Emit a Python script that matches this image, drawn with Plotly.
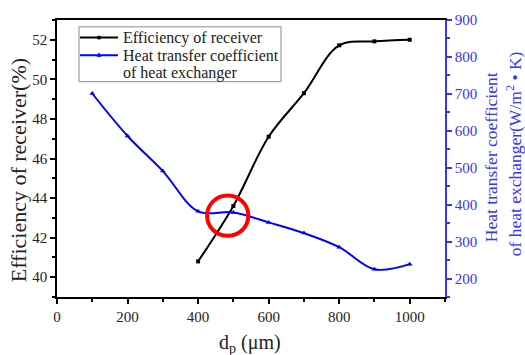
import plotly.graph_objects as go

# ---- data ----
dp = [400, 500, 600, 700, 800, 900, 1000]
efficiency = [40.8, 43.6, 47.1, 49.3, 51.72, 51.92, 52.0]

dp_h = [100, 200, 300, 400, 500, 600, 700, 800, 900, 1000]
heat_coef = [701, 586, 491, 382, 379, 352, 323, 285, 225, 239]

x_ticks = [0, 200, 400, 600, 800, 1000]
y_ticks = [40, 42, 44, 46, 48, 50, 52]
y2_ticks = [200, 300, 400, 500, 600, 700, 800, 900]

names = ["Efficiency of receiver", "Heat transfer coefficient", "of heat exchanger"]

FONT = "Liberation Serif, Times New Roman, serif"
BLUE = "#0000ff"
AXBLUE = "#3535ff"
TXT = "#222222"

W, H = 525, 355
L, R, T, B = 57, 80, 14, 58
PW, PH = W - L - R, H - T - B


def px(xp):
    return (xp - L) / PW


def py(yp):
    return (H - B - yp) / PH


fig = go.Figure()
fig.add_trace(go.Scatter(
    x=dp, y=efficiency, mode="lines+markers", showlegend=False,
    line=dict(color="black", width=2, shape="spline", smoothing=1),
    marker=dict(symbol="square", size=4, color="black"),
))
fig.add_trace(go.Scatter(
    x=dp_h, y=heat_coef, mode="lines+markers", yaxis="y2", showlegend=False,
    line=dict(color=BLUE, width=2, shape="spline", smoothing=1),
    marker=dict(symbol="triangle-up", size=5, color=BLUE),
))

# red highlight circle
cx, cy, rx, ry = 484, 43.11, 58.5, 1.02
fig.add_shape(type="circle", xref="x", yref="y",
              x0=cx - rx, x1=cx + rx, y0=cy - ry, y1=cy + ry,
              line=dict(color="red", width=4))

# ---- manual legend ----
fig.add_shape(type="rect", xref="paper", yref="paper",
              x0=px(79), x1=px(281), y0=py(77), y1=py(21),
              line=dict(color="#8a8a8a", width=1), fillcolor="white", layer="above")
for yy, col in [(32, "black"), (50, BLUE)]:
    fig.add_shape(type="line", xref="paper", yref="paper",
                  x0=px(80), x1=px(118), y0=py(yy), y1=py(yy),
                  line=dict(color=col, width=2), layer="above")
fig.add_shape(type="rect", xref="paper", yref="paper",
              x0=px(97.5), x1=px(100.5), y0=py(33.5), y1=py(30.5),
              line=dict(color="black", width=0.5), fillcolor="black", layer="above")
fig.add_shape(type="path", xref="paper", yref="paper",
              path=f"M {px(97)} {py(51.5)} L {px(101)} {py(51.5)} L {px(99)} {py(47.5)} Z",
              line=dict(color=BLUE, width=0.5), fillcolor=BLUE, layer="above")
for txt, yy in zip(names, [32, 50, 68]):
    fig.add_annotation(text=txt, xref="paper", yref="paper", x=px(121), y=py(yy),
                       xanchor="left", yanchor="middle", showarrow=False,
                       font=dict(family=FONT, size=16, color=TXT))

# ---- axis titles ----
fig.add_annotation(text="Efficiency of receiver(%)", xref="paper", yref="paper",
                   x=px(18), y=py(284), xanchor="center", yanchor="bottom",
                   textangle=-90, showarrow=False,
                   font=dict(family=FONT, size=22, color=TXT))
fig.add_annotation(text="Heat transfer coefficient", xref="paper", yref="paper",
                   x=px(491), y=py(243), xanchor="center", yanchor="bottom",
                   textangle=-90, showarrow=False,
                   font=dict(family=FONT, size=17.5, color=AXBLUE))
fig.add_annotation(text="of heat exchanger(W/m<sup>2</sup> • K)", xref="paper", yref="paper",
                   x=px(514), y=py(258), xanchor="center", yanchor="bottom",
                   textangle=-90, showarrow=False,
                   font=dict(family=FONT, size=17.5, color=AXBLUE))
fig.add_annotation(text="d<sub>p</sub> (μm)", xref="paper", yref="paper",
                   x=px(250), y=py(344), xanchor="center", yanchor="middle",
                   showarrow=False,
                   font=dict(family=FONT, size=20, color=TXT))

fig.update_layout(
    width=W, height=H,
    margin=dict(l=L, r=R, t=T, b=B),
    paper_bgcolor="white", plot_bgcolor="white",
    font=dict(family=FONT, size=15, color=TXT),
    showlegend=False,
    xaxis=dict(range=[0, 1100], tickvals=x_ticks,
               ticks="outside", ticklen=5, tickcolor="black", tickwidth=1.5,
               minor=dict(dtick=100, tick0=0, ticks="outside", ticklen=3, tickcolor="black"),
               showline=True, linecolor="black", linewidth=1.5, mirror=True,
               showgrid=False, zeroline=False,
               tickfont=dict(family=FONT, size=15, color=TXT)),
    yaxis=dict(range=[39, 53], tickvals=y_ticks,
               ticks="outside", ticklen=5, tickcolor="black", tickwidth=1.5,
               minor=dict(dtick=1, tick0=0, ticks="outside", ticklen=3, tickcolor="black"),
               showline=True, linecolor="black", linewidth=1.5,
               showgrid=False, zeroline=False,
               tickfont=dict(family=FONT, size=15, color=TXT)),
    yaxis2=dict(range=[150, 900], overlaying="y", side="right",
                tickvals=y2_ticks,
                ticks="outside", ticklen=5, tickcolor=AXBLUE, tickwidth=1.5,
                minor=dict(dtick=50, tick0=0, ticks="outside", ticklen=3, tickcolor=AXBLUE),
                showline=True, linecolor=AXBLUE, linewidth=1.5,
                showgrid=False, zeroline=False,
                tickfont=dict(family=FONT, size=15, color=AXBLUE)),
)

fig.write_html("out.html")
